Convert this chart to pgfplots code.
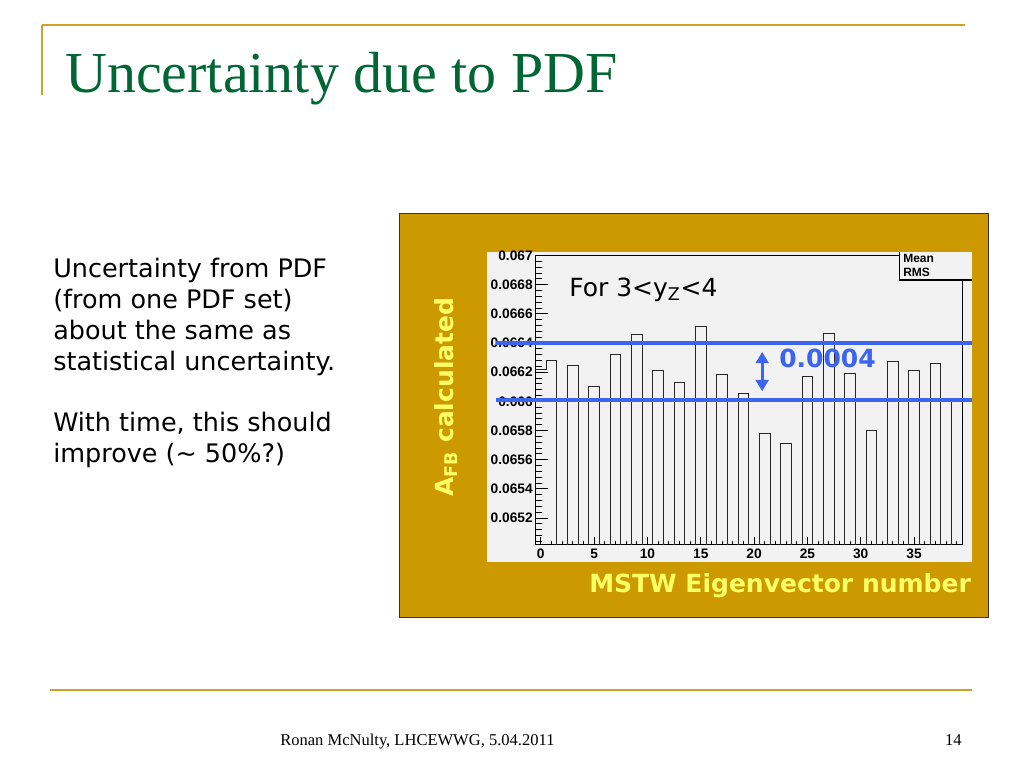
\documentclass[border=0pt]{standalone}
\usepackage{fontspec}
\setmainfont{DejaVu Sans}
\newfontfamily\rootfont{Liberation Sans}
\newfontfamily\garafont{Liberation Serif}
\usepackage{pgfplots}
\pgfplotsset{compat=1.18}
\usepackage{pgfplotstable}
\usetikzlibrary{arrows.meta}
\definecolor{slidegold}{RGB}{209,162,43}
\definecolor{boxgold}{RGB}{204,153,0}
\definecolor{titlegreen}{RGB}{0,102,51}
\definecolor{rootbg}{RGB}{242,242,242}
\definecolor{annblue}{RGB}{59,101,240}
\definecolor{labyellow}{RGB}{255,255,102}

\pgfplotstableread{
edge val
-0.5 0.066219
0.5 0.066282
1.5 0
2.5 0.066244
3.5 0
4.5 0.066105
5.5 0
6.5 0.066319
7.5 0
8.5 0.066458
9.5 0
10.5 0.066214
11.5 0
12.5 0.066128
13.5 0
14.5 0.066511
15.5 0
16.5 0.066183
17.5 0
18.5 0.066057
19.5 0
20.5 0.065779
21.5 0
22.5 0.065711
23.5 0
24.5 0.066171
25.5 0
26.5 0.066463
27.5 0
28.5 0.066194
29.5 0
30.5 0.065800
31.5 0
32.5 0.066276
33.5 0
34.5 0.066214
35.5 0
36.5 0.066258
37.5 0
38.5 0.066014
39.5 0.066014
}\histdata

\begin{document}
\begin{tikzpicture}
\begin{scope}[x=0.75pt,y=-0.75pt]
\fill[white] (0,0) rectangle (1024,768);
\path[use as bounding box] (0,0) rectangle (1024,768);
% slide decoration
\draw[slidegold, line width=1.6pt] (42,25) -- (965,25);
\draw[slidegold, line width=1.6pt] (42,25) -- (42,95);
\draw[slidegold, line width=1.6pt] (50,690) -- (972,690);
\node[anchor=base west, inner sep=0, text=titlegreen, font=\garafont\fontsize{43.5}{50}\selectfont] at (65,92) {Uncertainty due to PDF};
% body text
\begin{scope}[every node/.style={anchor=base west, inner sep=0, font=\fontsize{19.1}{23}\selectfont}]
\node at (53,277) {Uncertainty from PDF};
\node at (53,308) {(from one PDF set)};
\node at (53,339) {about the same as};
\node at (53,370) {statistical uncertainty.};
\node at (53,431) {With time, this should};
\node at (53,462) {improve (\textasciitilde{} 50\%?)};
\end{scope}
% footer
\node[anchor=base west, inner sep=0, font=\garafont\fontsize{12.4}{14}\selectfont] at (280,745) {Ronan McNulty, LHCEWWG, 5.04.2011};
\node[anchor=base east, inner sep=0, font=\garafont\fontsize{12.4}{14}\selectfont] at (962,745) {14};
% chart frame
\draw[fill=boxgold, draw=black!80, line width=0.75pt] (399,213) rectangle (988,617);
\fill[rootbg] (487,252) rectangle (972,562);
\end{scope}

\begin{axis}[
  at={(401.6pt,-408.2pt)}, anchor=south west,
  scale only axis, width=319.9pt, height=216.45pt,
  xmin=-0.5, xmax=39.5, ymin=0.06502, ymax=0.0670,
  axis line style={black, line width=0.75pt},
  tick align=inside, xtick pos=bottom, ytick pos=left,
  xtick={0,5,10,15,20,25,30,35},
  minor xtick={0,1,...,39},
  ytick={0.0652,0.0654,0.0656,0.0658,0.066,0.0662,0.0664,0.0666,0.0668,0.067},
  yticklabels={0.0652,0.0654,0.0656,0.0658,0.066,0.0662,0.0664,0.0666,0.0668,0.067},
  minor ytick={0.06504,0.06508,0.06512,0.06516,0.06520,0.06524,0.06528,0.06532,0.06536,0.06540,0.06544,0.06548,0.06552,0.06556,0.06560,0.06564,0.06568,0.06572,0.06576,0.06580,0.06584,0.06588,0.06592,0.06596,0.06600,0.06604,0.06608,0.06612,0.06616,0.06620,0.06624,0.06628,0.06632,0.06636,0.06640,0.06644,0.06648,0.06652,0.06656,0.06660,0.06664,0.06668,0.06672,0.06676,0.06680,0.06684,0.06688,0.06692,0.06696},
  scaled y ticks=false,
  xtick style={black, line width=0.6pt, /pgfplots/major tick length=5.5pt, /pgfplots/minor tick length=2.7pt},
  ytick style={black, line width=0.6pt, /pgfplots/major tick length=9.75pt, /pgfplots/minor tick length=4.9pt},
  /pgf/number format/assume math mode=true,
  ticklabel style={font=\rootfont\bfseries\fontsize{10.3}{12}\selectfont},
  yticklabel style={anchor=east, inner sep=0pt, xshift=-1.9pt},
  xticklabel style={anchor=north, inner sep=0pt, yshift=-3.5pt},
]
\addplot[const plot, black!85, line width=0.6pt, mark=none] table[x=edge, y=val] {\histdata};
\coordinate (bu1) at (axis cs:-4.2,0.06640);
\coordinate (bu2) at (axis cs:40.4,0.06640);
\coordinate (bl1) at (axis cs:-4.2,0.06601);
\coordinate (bl2) at (axis cs:40.4,0.06601);
\coordinate (ar1) at (axis cs:20.76,0.066340);
\coordinate (ar2) at (axis cs:20.76,0.066070);
\end{axis}

\begin{scope}[x=0.75pt,y=-0.75pt]
% stats box
\fill[rootbg] (899,252) rectangle (972,279);
\draw[black, line width=0.75pt] (899,252) -- (899,279.5);
\draw[black, line width=1.5pt] (899,279.5) -- (972,279.5);
\node[anchor=base west, inner sep=0, font=\rootfont\bfseries\fontsize{9}{10}\selectfont] at (903,262) {Mean};
\node[anchor=base west, inner sep=0, font=\rootfont\bfseries\fontsize{9}{10}\selectfont] at (903,276) {RMS};
% annotations
\node[anchor=base west, inner sep=0, font=\fontsize{18.75}{22}\selectfont] at (569,296) {For 3<y\textsubscript{Z}<4};
\node[anchor=base west, inner sep=0, text=annblue, font=\bfseries\fontsize{18.75}{22}\selectfont] at (779,367) {0.0004};
\node[anchor=base west, inner sep=0, text=labyellow, font=\bfseries\fontsize{18.75}{22}\selectfont] at (589,592) {MSTW Eigenvector number};
\node[anchor=base west, inner sep=0, rotate=90, text=labyellow, font=\bfseries\fontsize{18.75}{22}\selectfont] at (453,497) {A\textsubscript{FB} calculated};
\end{scope}
\draw[annblue, line width=3pt] (bu1) -- (bu2);
\draw[annblue, line width=3pt] (bl1) -- (bl2);
\draw[annblue, line width=2.5pt, {Triangle[width=9.5pt,length=8.5pt]}-{Triangle[width=9.5pt,length=8.5pt]}] (ar1) -- (ar2);
\end{tikzpicture}
\end{document}
